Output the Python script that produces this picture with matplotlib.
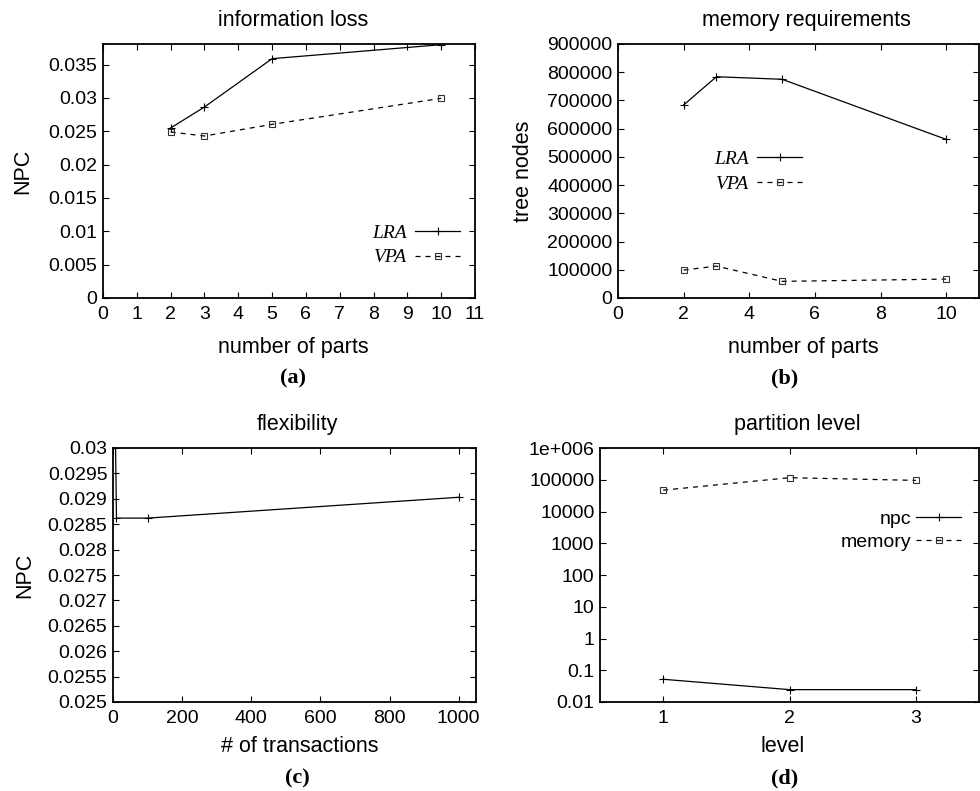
import numpy as np
import matplotlib
matplotlib.use("Agg")
import matplotlib.pyplot as plt
from matplotlib.ticker import FuncFormatter, FixedLocator, NullLocator

plt.rcParams['font.family'] = ['Liberation Sans', 'DejaVu Sans']

# (a) information loss
parts = [2, 3, 5, 10]
lra_npc = [0.0255, 0.02865, 0.0359, 0.0380]
vpa_npc = [0.0249, 0.0243, 0.02605, 0.02995]

# (b) memory requirements
lra_nodes = [684000, 784000, 775000, 562000]
vpa_nodes = [99000, 113000, 59000, 67000]

# (c) flexibility
transactions = [1, 10, 100, 1000]
flex_npc = [0.0335, 0.02862, 0.02862, 0.02903]

# (d) partition level
levels = [1, 2, 3]
level_npc = [0.052, 0.0245, 0.0245]
level_memory = [47000, 116000, 95500]
log_ticks = [0.01, 0.1, 1, 10, 100, 1000, 10000, 100000, 1000000]
log_labels = ['0.01', '0.1', '1', '10', '100', '1000', '10000', '100000', '1e+006']

W, H = 980, 791
fig = plt.figure(figsize=(W / 100, H / 100), dpi=100)


def make_axes(left, right, top, bottom):
    return fig.add_axes([left / W, 1 - bottom / H, (right - left) / W, (bottom - top) / H])


def style(ax):
    ax.tick_params(direction='in', top=True, right=True, length=4, width=0.8,
                   labelsize=14)
    ax.tick_params(axis='x', pad=6)
    ax.tick_params(axis='y', pad=4)
    for s in ax.spines.values():
        s.set_linewidth(1.3)


gfmt = FuncFormatter(lambda v, p: '%g' % v)
lra_kw = dict(color='black', lw=0.9, marker='+', ms=6, mew=0.8)
vpa_kw = dict(color='black', lw=0.9, ls=(0, (4, 4)), marker='s', ms=4.5, mew=0.8,
              mfc='none', mec='#333333')
leg_serif = dict(family='Liberation Serif', style='italic', size=14)

# ---- (a)
ax = make_axes(103, 475, 44, 298)
ax.plot(parts, lra_npc, label='LRA', **lra_kw)
ax.plot(parts, vpa_npc, label='VPA', **vpa_kw)
ax.set_xlim(0, 11)
ax.set_ylim(0, 0.0381)
ax.set_xticks(range(0, 12))
ax.set_yticks(np.arange(0, 0.0351, 0.005))
ax.yaxis.set_major_formatter(gfmt)
style(ax)
ax.set_title('information loss', fontsize=15.5, x=0.511, y=1.0906, va='center', pad=0)
ax.set_xlabel('number of parts', fontsize=15.5)
ax.xaxis.set_label_coords(0.511, -0.193)
ax.xaxis.label.set_va('center')
ax.set_ylabel('NPC', fontsize=15.5)
ax.yaxis.set_label_coords(-0.215, 0.5)
ax.yaxis.label.set_va('center')
ax.legend(loc='center right', bbox_to_anchor=(0.96, 0.207), frameon=False,
          markerfirst=False, prop=leg_serif, handlelength=2.3, handletextpad=0.45,
          borderpad=0, borderaxespad=0, labelspacing=0.35, numpoints=1)

# ---- (b)
ax = make_axes(618, 979, 44, 298)
ax.plot(parts, lra_nodes, label='LRA', **lra_kw)
ax.plot(parts, vpa_nodes, label='VPA', **vpa_kw)
ax.set_xlim(0, 11)
ax.set_ylim(0, 900000)
ax.set_xticks(range(0, 11, 2))
ax.set_yticks(range(0, 900001, 100000))
ax.yaxis.set_major_formatter(gfmt)
style(ax)
ax.set_title('memory requirements', fontsize=15.5, x=0.523, y=1.0906, va='center', pad=0)
ax.set_xlabel('number of parts', fontsize=15.5)
ax.xaxis.set_label_coords(0.512, -0.193)
ax.xaxis.label.set_va('center')
ax.set_ylabel('tree nodes', fontsize=15.5)
ax.yaxis.set_label_coords(-0.263, 0.5)
ax.yaxis.label.set_va('center')
ax.legend(loc='center right', bbox_to_anchor=(0.51, 0.498), frameon=False,
          markerfirst=False, prop=leg_serif, handlelength=2.3, handletextpad=0.45,
          borderpad=0, borderaxespad=0, labelspacing=0.35, numpoints=1)

# ---- (c)
ax = make_axes(113, 476, 448, 702)
ax.plot(transactions, flex_npc, **lra_kw)
ax.set_xlim(0, 1050)
ax.set_ylim(0.025, 0.03)
ax.set_xticks(range(0, 1001, 200))
ax.set_yticks(np.linspace(0.025, 0.03, 11))
ax.yaxis.set_major_formatter(FuncFormatter(lambda v, p: '%g' % round(v, 5)))
style(ax)
ax.set_title('flexibility', fontsize=15.5, x=0.507, y=1.0906, va='center', pad=0)
ax.set_xlabel('# of transactions', fontsize=15.5)
ax.xaxis.set_label_coords(0.515, -0.177)
ax.xaxis.label.set_va('center')
ax.set_ylabel('NPC', fontsize=15.5)
ax.yaxis.set_label_coords(-0.242, 0.5)
ax.yaxis.label.set_va('center')

# ---- (d)
ax = make_axes(600, 979, 448, 702)
ax.plot(levels, level_npc, label='npc', **lra_kw)
ax.plot(levels, level_memory, label='memory', **vpa_kw)
ax.set_yscale('log')
ax.set_xlim(0.5, 3.5)
ax.set_ylim(0.01, 1e6)
ax.set_xticks(levels)
ax.yaxis.set_major_locator(FixedLocator(log_ticks))
ax.set_yticklabels(log_labels)
ax.yaxis.set_minor_locator(NullLocator())
style(ax)
ax.set_title('partition level', fontsize=15.5, x=0.52, y=1.0906, va='center', pad=0)
ax.set_xlabel('level', fontsize=15.5)
ax.xaxis.set_label_coords(0.483, -0.177)
ax.xaxis.label.set_va('center')
ax.legend(loc='center right', bbox_to_anchor=(0.953, 0.675), frameon=False,
          markerfirst=False, prop=dict(size=14), handlelength=2.3, handletextpad=0.25,
          borderpad=0, borderaxespad=0, labelspacing=0.25, numpoints=1)

# sub-figure captions
cap = dict(family='Liberation Serif', weight='bold', size=16, ha='center', va='center')
fig.text(293 / W, 1 - 378 / H, '(a)', **cap)
fig.text(785 / W, 1 - 378 / H, '(b)', **cap)
fig.text(297 / W, 1 - 778 / H, '(c)', **cap)
fig.text(785 / W, 1 - 778 / H, '(d)', **cap)

fig.savefig('out.png', dpi=100)
